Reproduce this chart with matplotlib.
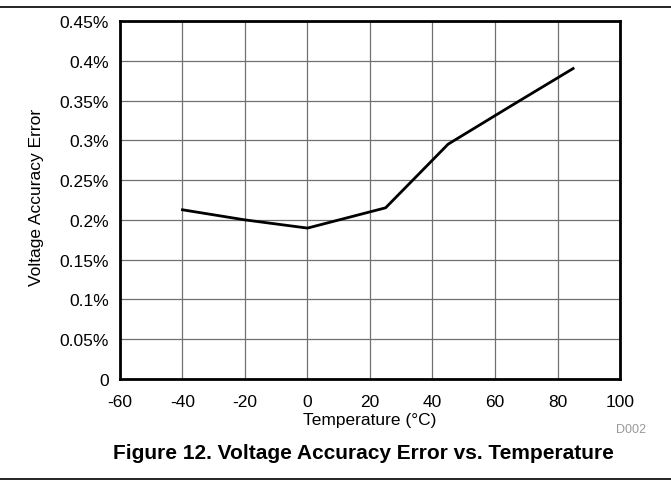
import matplotlib
matplotlib.use("Agg")
import matplotlib.pyplot as plt
from matplotlib.lines import Line2D

plt.rcParams['font.family'] = ['Liberation Sans', 'DejaVu Sans']

# data
temp = [-40, -20, 0, 25, 45, 65, 85]
err = [0.2127, 0.200, 0.1897, 0.2152, 0.2952, 0.343, 0.3903]

xticks = [-60, -40, -20, 0, 20, 40, 60, 80, 100]
yticks = [0, 0.05, 0.1, 0.15, 0.2, 0.25, 0.3, 0.35, 0.4, 0.45]
ylabels = ['0', '0.05%', '0.1%', '0.15%', '0.2%', '0.25%', '0.3%', '0.35%', '0.4%', '0.45%']

fig = plt.figure(figsize=(6.71, 4.85), dpi=100)
ax = fig.add_axes([0.1788, 0.2165, 0.7452, 0.7381])

ax.plot(temp, err, color='black', lw=2, zorder=3)

ax.set_xlim(-60, 100)
ax.set_ylim(0, 0.45)
ax.set_xticks(xticks)
ax.set_xticklabels([str(v) for v in xticks])
ax.set_yticks(yticks)
ax.set_yticklabels(ylabels)
ax.tick_params(length=0, labelsize=12.5)
ax.tick_params(axis='x', pad=11)
ax.tick_params(axis='y', pad=8)
ax.grid(True, color='#707070', lw=0.9)
ax.set_axisbelow(True)
for s in ax.spines.values():
    s.set_linewidth(2)
    s.set_color('black')

ax.set_xlabel('Temperature (°C)', fontsize=12.5)
ax.set_ylabel('Voltage Accuracy Error', fontsize=12.5)
ax.xaxis.set_label_coords(0.5, -0.1145)
ax.yaxis.set_label_coords(-0.166, 0.511)
ax.xaxis.label.set_va('center')
ax.yaxis.label.set_va('center')

fig.text(631 / 671, 1 - 430 / 485, 'D002', fontsize=9, color='#999999', ha='center', va='center')
fig.text(363.5 / 671, 1 - 454 / 485, 'Figure 12. Voltage Accuracy Error vs. Temperature',
         fontsize=15, fontweight='bold', ha='center', va='center')

# horizontal rules top and bottom
fig.add_artist(Line2D([0, 1], [1 - 8 / 485, 1 - 8 / 485], color='black', lw=1.2,
                      transform=fig.transFigure))
fig.add_artist(Line2D([0, 1], [1 - 480 / 485, 1 - 480 / 485], color='black', lw=1.2,
                      transform=fig.transFigure))

fig.savefig('out.png', dpi=100)
